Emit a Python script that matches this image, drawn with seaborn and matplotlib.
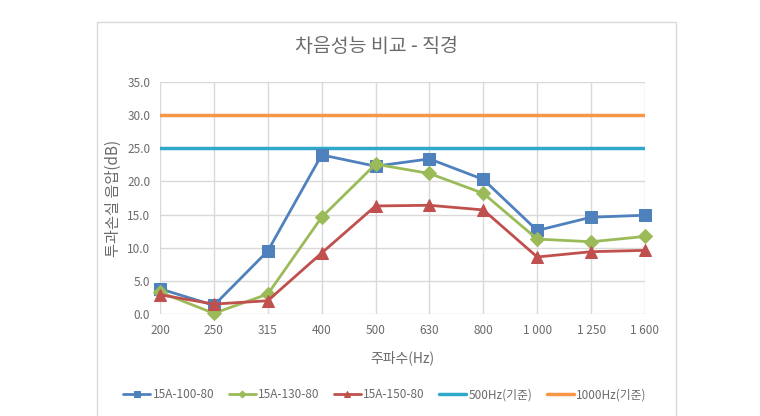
import matplotlib
matplotlib.use("Agg")
import matplotlib.pyplot as plt
import seaborn as sns
import pandas as pd
from matplotlib.patches import Rectangle

freqs = ["200", "250", "315", "400", "500", "630", "800", "1 000", "1 250", "1 600"]
s100 = [3.8, 1.3, 9.5, 24.0, 22.3, 23.4, 20.3, 12.6, 14.6, 14.9]
s130 = [3.3, 0.1, 3.0, 14.6, 22.6, 21.2, 18.2, 11.3, 10.9, 11.7]
s150 = [2.9, 1.5, 2.0, 9.2, 16.3, 16.4, 15.7, 8.6, 9.4, 9.6]
series_names = ["15A-100-80", "15A-130-80", "15A-150-80"]
ref_names = ["500Hz(기준)", "1000Hz(기준)"]
ref_values = [25.0, 30.0]
yticks = [0, 5, 10, 15, 20, 25, 30, 35]

colors = ["#4F81BD", "#9BBB59", "#C0504D"]
ref_colors = ["#2FA8C9", "#F79646"]
markers = ["s", "D", "^"]
msizes = [9, 7, 9]

sns.set_theme(style="white")
plt.rcParams["font.family"] = ["Noto Sans CJK KR", "DejaVu Sans"]

fig = plt.figure(figsize=(7.6, 4.16), dpi=100)
fig.patch.set_facecolor("white")
fig.add_artist(Rectangle((97 / 760, -0.01), (676 - 97) / 760, 1 - 22 / 416 + 0.01,
                         transform=fig.transFigure, fill=False,
                         edgecolor="#d9d9d9", linewidth=1))

ax = fig.add_axes([160 / 760, 1 - 314 / 416, (645 - 160) / 760, (314 - 82) / 416])

frames = []
for name, vals in zip(series_names, [s100, s130, s150]):
    frames.append(pd.DataFrame({"freq": freqs, "val": vals, "series": name}))
df = pd.concat(frames, ignore_index=True)

for i, name in enumerate(series_names):
    sub = df[df["series"] == name]
    sns.lineplot(data=sub, x="freq", y="val", ax=ax, color=colors[i],
                 marker=markers[i], markersize=msizes[i], markeredgecolor=colors[i],
                 linewidth=2, label=name, sort=False, clip_on=False, zorder=5)

for v, c, n in zip(ref_values, ref_colors, ref_names):
    ax.axhline(v, color=c, linewidth=2.5, label=n, zorder=4)

ax.set_xlim(0, len(freqs) - 1)
ax.set_ylim(0, 35)
ax.set_yticks(yticks)
ax.set_yticklabels([f"{t:.1f}" for t in yticks])
ax.set_xticks(range(len(freqs)))
ax.set_xticklabels(freqs)
ax.tick_params(axis="both", labelsize=8.5, colors="#6b6b6b", length=0, pad=7)
ax.grid(True, color="#d9d9d9", linewidth=1)
for sp in ax.spines.values():
    sp.set_visible(False)
ax.set_xlabel("주파수(Hz)", fontsize=10, color="#6b6b6b", labelpad=10)
ax.set_ylabel("투과손실 음압(dB)", fontsize=11, color="#6b6b6b", labelpad=4)

fig.text(376 / 760, 1 - 47 / 416, "차음성능 비교 - 직경", ha="center", va="center",
         fontsize=14, color="#6b6b6b")

handles, labels = ax.get_legend_handles_labels()
if ax.legend_:
    ax.legend_.remove()
fig.legend(handles, labels, loc="center", bbox_to_anchor=(385 / 760, 1 - 395 / 416),
           ncol=5, frameon=False, fontsize=8.5, markerscale=0.5, handlelength=2.3,
           columnspacing=1.2, handletextpad=0.2, labelcolor="#6b6b6b")

fig.savefig("out.png", dpi=100, facecolor="white")
